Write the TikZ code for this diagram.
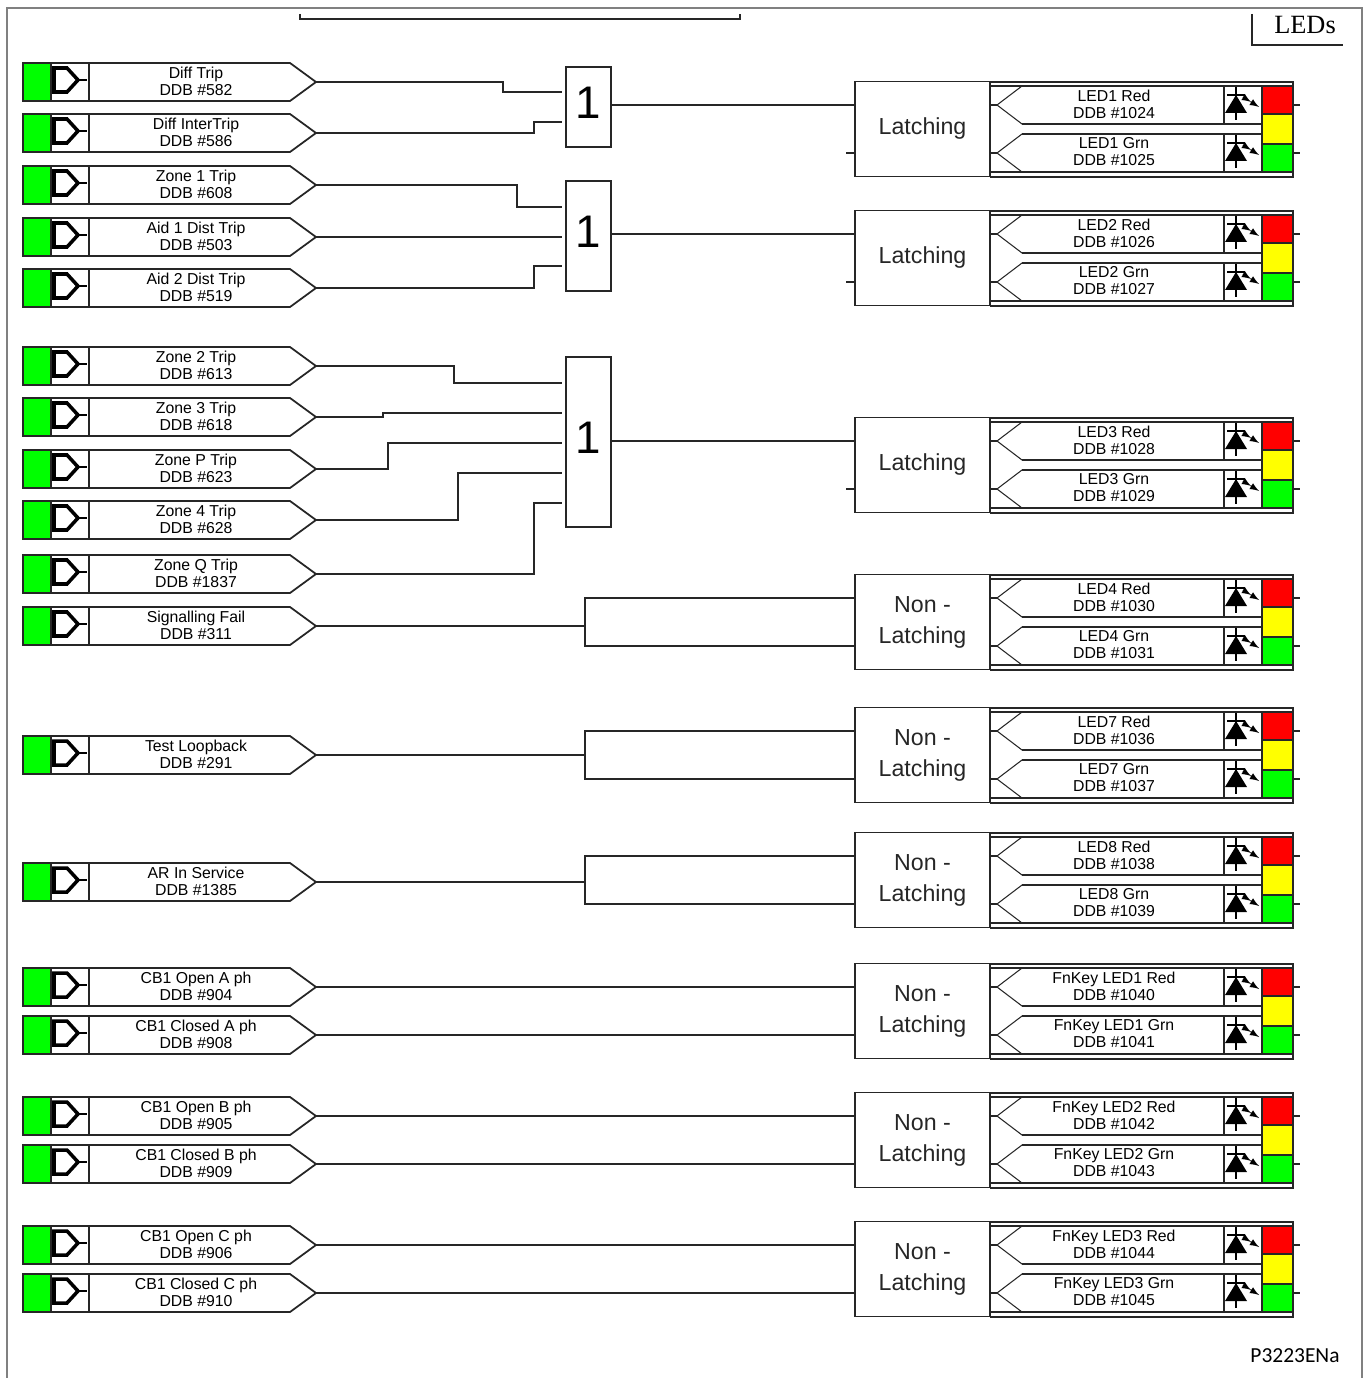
\documentclass[tikz,border=0pt]{standalone}
\usepackage{fontspec}
\setmainfont{Liberation Sans}
\newfontfamily\serifface{Liberation Serif}
\newfontfamily\noteface{Carlito}
\usetikzlibrary{positioning,calc}
\definecolor{ledred}{RGB}{255,0,0}
\definecolor{ledyellow}{RGB}{255,255,0}
\definecolor{ledgreen}{RGB}{0,255,0}
\definecolor{framegray}{RGB}{128,128,128}
\tikzset{
    wire/.style={line width=0.85pt, black!85},
    box/.style={line width=1pt, black!85},
    ddblabel/.style={font=\fontsize{9}{9.7}\selectfont, align=center, inner sep=0pt},
    latchbox/.style={draw, line width=1pt, black!85, minimum width=2.7cm, minimum height=1.9cm, inner sep=0pt, align=center, font=\fontsize{13.2}{17.6}\selectfont},
    orgate/.style={draw, line width=1pt, black!85, minimum width=0.9cm, inner sep=0pt, text depth=5.1pt, text=black, font=\fontsize{26}{26}\selectfont}
}
% input row: name, y, two text lines
\newcommand{\ddbinput}[4]{
    \fill[ledgreen] (23,#2-19) rectangle (51,#2+19);
    \draw[box] (23,#2-19) -- (290,#2-19) -- (316,#2) -- (290,#2+19) -- (23,#2+19) -- cycle;
    \draw[box] (51,#2-19) -- (51,#2+19) (89,#2-19) -- (89,#2+19);
    \draw[line width=2pt, black] (54,#2-14) -- (67,#2-14) -- (78,#2-2) -- (67,#2+10) -- (54,#2+10) -- cycle;
    \draw[line width=1.3pt, black] (78,#2-2) -- (87,#2-2);
    \node[ddblabel] (#1t) at (196,#2-1) {#3\\#4};
    \coordinate (#1) at (316,#2);
}
% led row: name, y, two text lines
\newcommand{\ledrow}[4]{
    \draw[box] (1262,#2-19) -- (1022,#2-19) (1022,#2+19) -- (1262,#2+19) (990,#2) -- (997,#2);
    \draw[line width=0.6pt, black!85] (1022,#2-19) -- (997,#2) -- (1022,#2+19);
    \draw[box] (1224,#2-19) -- (1224,#2+19);
    \draw[line width=1.4pt, black] (1236,#2-18) -- (1236,#2+15) (1227,#2-10) -- (1245,#2-10);
    \fill[black] (1236,#2-10) -- (1247,#2+8) -- (1225,#2+8) -- cycle;
    \draw[line width=0.8pt, black, -latex] (1243,#2-8) -- (1251,#2-3);
    \draw[line width=0.8pt, black, -latex] (1251,#2-3) -- (1259,#2+2);
    \draw[box] (1293,#2) -- (1300,#2);
    \node[ddblabel] (#1t) at (1114,#2-1) {#3\\#4};
}
% latch block with two leds: name, top y, block text, then led texts
\newcommand{\ledblock}[7]{
    \node[latchbox] (#1) at (922.5,#2+47) {#3};
    \draw[box] (990,#2) -- (1293,#2) -- (1293,#2+95) -- (990,#2+95);
    \draw[box] (990,#2+4) -- (1293,#2+4) (990,#2+90) -- (1293,#2+90);
    \ledrow{#1r}{#2+23}{#4}{#5}
    \ledrow{#1g}{#2+71}{#6}{#7}
    \fill[ledred] (1263,#2+4) rectangle (1292,#2+32);
    \fill[ledyellow] (1263,#2+33) rectangle (1292,#2+62);
    \fill[ledgreen] (1263,#2+63) rectangle (1292,#2+90);
    \draw[box] (1262,#2+4) rectangle (1293,#2+32) (1262,#2+32) rectangle (1293,#2+62) (1262,#2+62) rectangle (1293,#2+90);
    \coordinate (#1a) at (855,#2+23);
    \coordinate (#1b) at (855,#2+71);
}
\begin{document}
\begin{tikzpicture}[x=0.02cm, y=-0.02cm]
    \useasboundingbox (0,0) rectangle (1370,1378);

    % Frame
    \draw[framegray, line width=0.9pt] (7,1378) -- (7,8) -- (1362,8) -- (1362,1378);
    \draw[box] (300,14) -- (300,19) -- (740,19) -- (740,14);
    \draw[box] (1252,14) -- (1252,45) -- (1343,45);
    \node[font=\serifface\fontsize{15}{15}\selectfont, inner sep=0pt] (ledstitle) at (1305,25) {LEDs};

    % Inputs
    \ddbinput{in1}{82}{Diff Trip}{DDB \#582}
    \ddbinput{in2}{133}{Diff InterTrip}{DDB \#586}
    \ddbinput{in3}{185}{Zone 1 Trip}{DDB \#608}
    \ddbinput{in4}{237}{Aid 1 Dist Trip}{DDB \#503}
    \ddbinput{in5}{288}{Aid 2 Dist Trip}{DDB \#519}
    \ddbinput{in6}{366}{Zone 2 Trip}{DDB \#613}
    \ddbinput{in7}{417}{Zone 3 Trip}{DDB \#618}
    \ddbinput{in8}{469}{Zone P Trip}{DDB \#623}
    \ddbinput{in9}{520}{Zone 4 Trip}{DDB \#628}
    \ddbinput{in10}{574}{Zone Q Trip}{DDB \#1837}
    \ddbinput{in11}{626}{Signalling Fail}{DDB \#311}
    \ddbinput{in12}{755}{Test Loopback}{DDB \#291}
    \ddbinput{in13}{882}{AR In Service}{DDB \#1385}
    \ddbinput{in14}{987}{CB1 Open A ph}{DDB \#904}
    \ddbinput{in15}{1035}{CB1 Closed A ph}{DDB \#908}
    \ddbinput{in16}{1116}{CB1 Open B ph}{DDB \#905}
    \ddbinput{in17}{1164}{CB1 Closed B ph}{DDB \#909}
    \ddbinput{in18}{1245}{CB1 Open C ph}{DDB \#906}
    \ddbinput{in19}{1293}{CB1 Closed C ph}{DDB \#910}

    % OR gates
    \node[orgate, minimum height=1.6cm] (or1) at (588.5,107) {1};
    \node[orgate, minimum height=2.2cm] (or2) at (588.5,236) {1};
    \node[orgate, minimum height=3.4cm] (or3) at (588.5,442) {1};

    % LED blocks
    \ledblock{led1}{82}{Latching}{LED1 Red}{DDB \#1024}{LED1 Grn}{DDB \#1025}
    \ledblock{led2}{211}{Latching}{LED2 Red}{DDB \#1026}{LED2 Grn}{DDB \#1027}
    \ledblock{led3}{418}{Latching}{LED3 Red}{DDB \#1028}{LED3 Grn}{DDB \#1029}
    \ledblock{led4}{575}{Non -\\Latching}{LED4 Red}{DDB \#1030}{LED4 Grn}{DDB \#1031}
    \ledblock{led7}{708}{Non -\\Latching}{LED7 Red}{DDB \#1036}{LED7 Grn}{DDB \#1037}
    \ledblock{led8}{833}{Non -\\Latching}{LED8 Red}{DDB \#1038}{LED8 Grn}{DDB \#1039}
    \ledblock{fn1}{964}{Non -\\Latching}{FnKey LED1 Red}{DDB \#1040}{FnKey LED1 Grn}{DDB \#1041}
    \ledblock{fn2}{1093}{Non -\\Latching}{FnKey LED2 Red}{DDB \#1042}{FnKey LED2 Grn}{DDB \#1043}
    \ledblock{fn3}{1222}{Non -\\Latching}{FnKey LED3 Red}{DDB \#1044}{FnKey LED3 Grn}{DDB \#1045}

    % Gate inputs
    \coordinate (or1i1) at (562,92);
    \coordinate (or1i2) at (562,122);
    \coordinate (or2i1) at (562,207);
    \coordinate (or2i2) at (562,237);
    \coordinate (or2i3) at (562,266);
    \coordinate (or3i1) at (562,383);
    \coordinate (or3i2) at (562,413);
    \coordinate (or3i3) at (562,443);
    \coordinate (or3i4) at (562,473);
    \coordinate (or3i5) at (562,503);

    % Branch points
    \coordinate (br4) at (585,626);
    \coordinate (br7) at (585,755);
    \coordinate (br8) at (585,882);

    % Wires into gates
    \draw[wire] (in1) -| (503,92) -- (or1i1);
    \draw[wire] (in2) -| (534,122) -- (or1i2);
    \draw[wire] (in3) -| (517,207) -- (or2i1);
    \draw[wire] (in4) -- (or2i2);
    \draw[wire] (in5) -| (534,266) -- (or2i3);
    \draw[wire] (in6) -| (454,383) -- (or3i1);
    \draw[wire] (in7) -| (383,413) -- (or3i2);
    \draw[wire] (in8) -| (388,443) -- (or3i3);
    \draw[wire] (in9) -| (458,473) -- (or3i4);
    \draw[wire] (in10) -| (534,503) -- (or3i5);

    % Gate outputs
    \draw[wire] (or1.east |- led1a) -- (led1a);
    \draw[wire] (or2.east |- led2a) -- (led2a);
    \draw[wire] (or3.east |- led3a) -- (led3a);
    \draw[wire] (led1b) -- ++(-9,0);
    \draw[wire] (led2b) -- ++(-9,0);
    \draw[wire] (led3b) -- ++(-9,0);

    % Direct wires
    \draw[wire] (in11) -- (br4);
    \draw[wire] (led4a) -| (br4) |- (led4b);
    \draw[wire] (in12) -- (br7);
    \draw[wire] (led7a) -| (br7) |- (led7b);
    \draw[wire] (in13) -- (br8);
    \draw[wire] (led8a) -| (br8) |- (led8b);
    \draw[wire] (in14) -- (fn1a);
    \draw[wire] (in15) -- (fn1b);
    \draw[wire] (in16) -- (fn2a);
    \draw[wire] (in17) -- (fn2b);
    \draw[wire] (in18) -- (fn3a);
    \draw[wire] (in19) -- (fn3b);

    % Reference
    \node[font=\noteface\fontsize{12.2}{12.2}\selectfont, inner sep=0pt] (refcode) at (1295,1356) {P3223ENa};
\end{tikzpicture}
\end{document}
